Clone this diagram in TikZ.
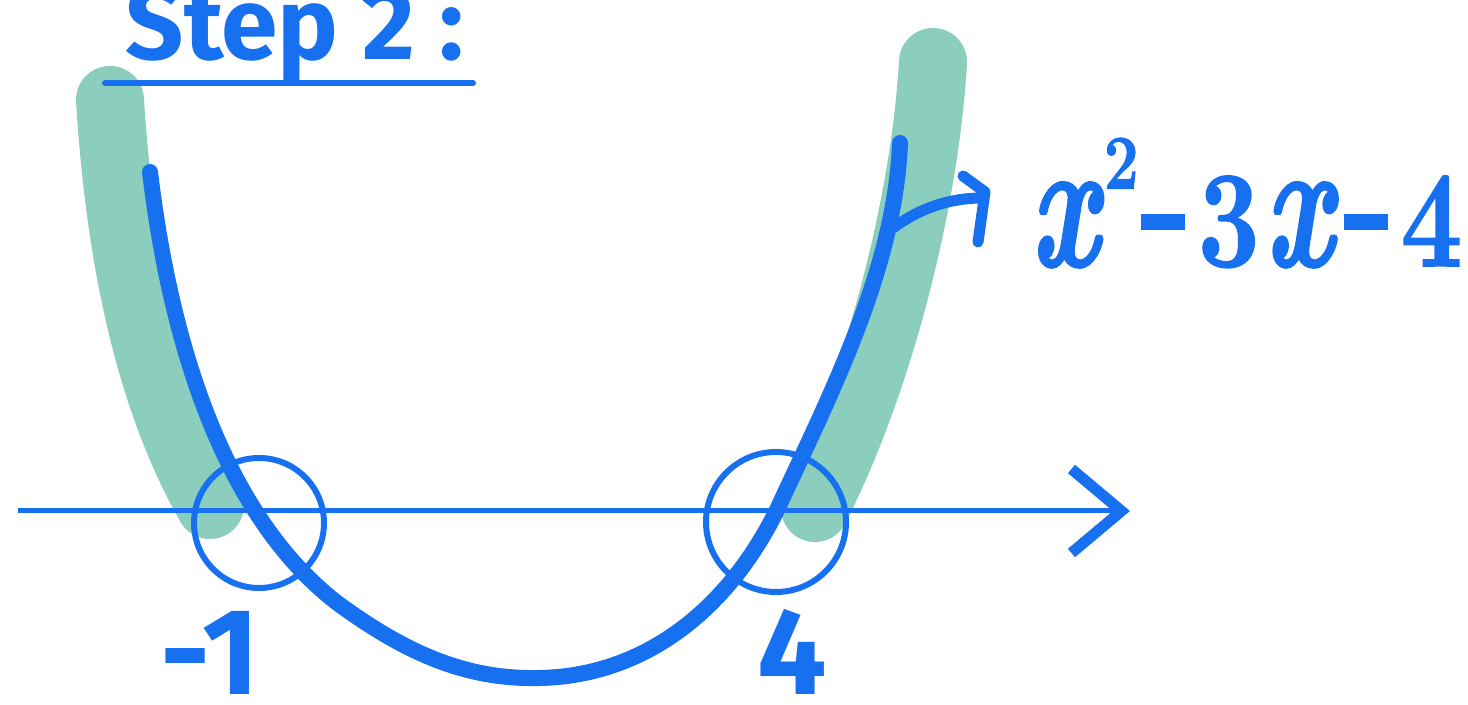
\documentclass[tikz,border=0pt]{standalone}
\usepackage{graphicx}
\usepackage{fontspec}
\setsansfont{Fira Sans}
\newfontfamily\fxfont[FakeBold=1.5]{Latin Modern Roman}
\usepackage{tikz}
\usetikzlibrary{positioning,arrows.meta,calc}
\definecolor{penblue}{RGB}{22,112,240}
\definecolor{hlgreen}{RGB}{140,206,190}
\newcommand{\dashsign}{\rule[0.26em]{0.40em}{0.12em}}
\newcommand{\fxx}{\scalebox{1.1}[1.35]{\itshape x}}
\tikzset{
  hilite/.style={line width=6.8mm, hlgreen, line cap=round},
  curve/.style={line width=1.6mm, penblue, line cap=round},
  axisline/.style={line width=0.5mm, penblue,
                   -{Straight Barb[length=5mm, width=8.4mm, line width=1.1mm]}},
  rootring/.style={circle, draw=penblue, line width=0.6mm, inner sep=0pt},
  ptr/.style={line width=1.1mm, penblue, line cap=round, line join=round},
  lbl/.style={text=penblue, font=\sffamily\bfseries\fontsize{35}{40}\selectfont, inner sep=0pt},
  ttl/.style={text=penblue, font=\sffamily\bfseries\fontsize{29}{34}\selectfont, inner sep=0pt},
  fxlbl/.style={text=penblue, font=\fxfont\bfseries\fontsize{39}{44}\selectfont, inner sep=0pt}
}
\begin{document}
\begin{tikzpicture}[x=0.1mm, y=-0.1mm]
\useasboundingbox (0,0) rectangle (1468,705);
% green highlight under the branches
\draw[hilite] (110,100) .. controls (120,260) and (150,400) .. (210,505);
\draw[hilite] (933,62) .. controls (925,200) and (880,380) .. (815,508);
% x axis
\coordinate (xl) at (18,511);
\coordinate (xr) at (1130,511);
\draw[axisline] (xl) -- (xr);
% roots
\node[rootring, minimum size=13.0mm] (c1) at (259,523) {};
\node[rootring, minimum size=14.0mm] (c4) at (776,522) {};
% the parabola
\draw[curve] (150,172) .. controls (175,380) and (240,530) .. (340,605)
  .. controls (405,652) and (465,680) .. (540,678)
  .. controls (640,676) and (725,615) .. (777,510)
  .. controls (830,395) and (895,270) .. (900,143);
% label and pointer
\coordinate (on) at (893,228);
\node[fxlbl, anchor=base west] (fx) at (1030,266)
  {\scalebox{0.8}[1]{\fxx\kern0.05em\raisebox{22pt}{\fontsize{22}{22}\selectfont 2}\kern0.02em\dashsign\kern0.12em
   3\kern0.05em\fxx\kern0.1em\dashsign\kern0.12em 4}};
\draw[ptr] (on) .. controls (920,208) and (950,198) .. (982,198)
           (963,176) -- (985,192) -- (978,242);
% texts
\node[ttl, anchor=base west] (title) at (125,60) {Step 2 :};
\draw[line width=0.6mm, penblue, line cap=round] (105,83) -- (473,83);
\node[lbl, anchor=base] (m1) at (210,695) {-1};
\node[lbl, anchor=base] (r4) at (792,695) {4};
\end{tikzpicture}
\end{document}
